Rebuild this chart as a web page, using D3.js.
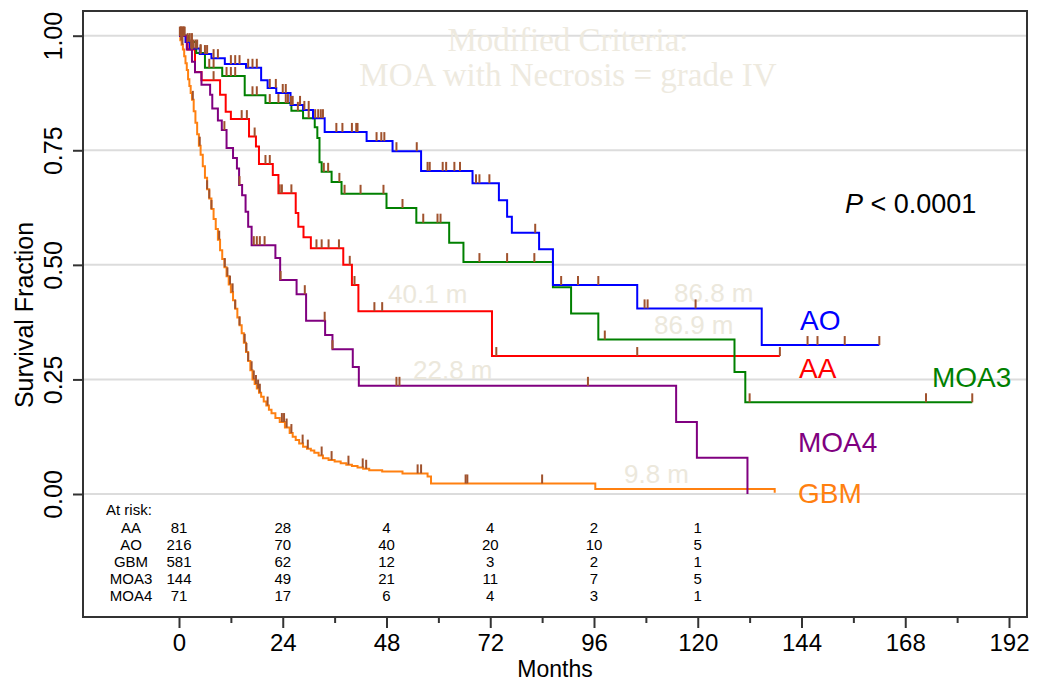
<!DOCTYPE html>
<html>
<head>
  <meta charset="utf-8">
  <title>Survival by grade - modified criteria</title>
  <style>
    html, body { margin: 0; padding: 0; background: #fff; }
    svg { display: block; }
    text { font-family: "Liberation Sans", Arial, sans-serif; }
  </style>
</head>
<body>
  <svg id="chart" width="1038" height="682"></svg>
  <script src="https://d3js.org/d3.v7.min.js"></script>
  <script>
    // ---- data: [months, survival fraction] step points ----
    const aoSteps = [[0,1],[1.5,0.986],[2.5,0.972],[4.8,0.96],[7.5,0.951],[10.6,0.938],[15.5,0.93],[19,0.903],[20.5,0.886],[22.5,0.875],[25.8,0.849],[28.7,0.838],[31,0.82],[33.7,0.79],[43.4,0.77],[49.4,0.748],[56,0.705],[67.9,0.678],[74,0.641],[75.9,0.605],[77,0.57],[83.3,0.534],[86.5,0.456],[106,0.405],[134.8,0.325],[162,0.325]];
    const aoCensor = [0.3,0.7,1,1.3,2,2.8,3.3,3.8,4.2,5,6,6.5,8,9,12,13,14,16,17,18,21,22.4,24,24.7,25.9,26.3,28,29,30,31.5,32.2,32.8,33.3,36.4,37.8,40,41,41.3,45.7,46.8,47.5,50.3,55,57.5,58,61,61.8,63.7,65,68.7,69.5,71.8,82.4,88.4,92.3,97,107.7,108.4,119.5,145.4,147.7,154,162];

    const aaSteps = [[0,1],[2,0.97],[3.7,0.921],[5.2,0.903],[9.5,0.871],[10.8,0.834],[12,0.818],[16.2,0.78],[17.8,0.758],[18.5,0.72],[21.7,0.696],[23,0.656],[27,0.613],[27.6,0.583],[28.8,0.56],[30.5,0.536],[38,0.5],[40,0.456],[41.5,0.399],[72.4,0.301],[139,0.301]];
    const aaCensor = [0.5,1,3,8,14.5,15.7,17.5,20,21,23.3,23.8,26,31.8,33,34.6,37,39.5,40.6,45.2,47,73.4,106,139];

    const moa3Steps = [[0,1],[2,0.986],[4,0.962],[6,0.93],[10,0.912],[15.2,0.87],[20,0.853],[26,0.836],[28.7,0.82],[31.4,0.8],[32,0.777],[32.5,0.724],[33,0.703],[35.3,0.681],[37.6,0.655],[48,0.624],[54.9,0.592],[62.5,0.548],[65.8,0.506],[86.5,0.451],[90.7,0.394],[97,0.337],[128.5,0.266],[131,0.2],[183.5,0.2]];
    const moa3Censor = [0.5,1,2.5,3,5,7,8,11,12,13,17,18,21,23,24.7,25.2,27.5,30,33.5,34.5,37.1,38.3,42,47.3,51.7,56.5,59.8,60.5,69.5,75.9,82.2,98.5,132,172.8,183.5];

    const moa4Steps = [[0,1],[1.8,0.97],[3,0.943],[3.7,0.92],[5.2,0.893],[7.2,0.871],[7.7,0.841],[9,0.815],[9.9,0.794],[11,0.755],[12.5,0.733],[13.4,0.71],[13.9,0.674],[14.6,0.652],[15.4,0.616],[16,0.583],[16.8,0.543],[22.3,0.515],[23.4,0.467],[27.2,0.436],[29.4,0.378],[33.8,0.347],[35.5,0.316],[40.2,0.277],[41.6,0.236],[115,0.157],[119.8,0.079],[131.5,0]];
    const moa4Censor = [0.5,1.2,10.5,14,17.3,18,18.7,19.8,23.5,29.1,33.7,35.5,50.3,51,94.6];

    const gbmSteps = [[0,1],[0.3,0.99],[0.6,0.98],[0.9,0.97],[1.2,0.955],[1.5,0.94],[1.8,0.925],[2.1,0.905],[2.4,0.89],[2.7,0.875],[3,0.86],[3.4,0.835],[3.8,0.81],[4.2,0.785],[4.6,0.76],[5,0.74],[5.5,0.715],[6,0.69],[6.5,0.665],[7,0.645],[7.5,0.622],[8,0.6],[8.5,0.578],[9,0.555],[9.5,0.532],[10,0.513],[10.5,0.495],[11,0.475],[11.5,0.457],[12,0.44],[12.5,0.423],[13,0.404],[13.5,0.385],[14,0.368],[14.5,0.351],[15,0.33],[15.5,0.31],[16,0.29],[16.5,0.27],[17,0.25],[17.5,0.24],[18,0.23],[18.5,0.221],[19,0.212],[19.6,0.202],[20.2,0.193],[20.8,0.184],[21.4,0.176],[22.3,0.166],[23.3,0.157],[24.5,0.145],[25.6,0.133],[26.3,0.125],[27,0.118],[27.8,0.11],[28.7,0.103],[29.6,0.099],[30.5,0.095],[31.3,0.09],[32.3,0.084],[33.3,0.078],[34.6,0.074],[36,0.071],[37.4,0.067],[38.7,0.064],[40,0.061],[41.3,0.058],[42.6,0.055],[44,0.052],[47,0.049],[51.7,0.045],[57.5,0.038],[58.3,0.023],[96.3,0.011],[137.8,0.003],[137.8,0.003]];
    const gbmCensor = [0.2,0.5,0.8,3.2,4.8,6.5,7,7.5,9.3,10.6,11.2,11.8,12.4,13,14,15.2,15.6,16,16.8,17.3,17.8,18.3,18.7,20.5,23.8,24.3,24.9,26,28.6,29.8,33,35.3,39.2,42.5,43.3,55.2,56,66.3,66.7,84];

    // at-risk table
    const atRiskTimes = [0, 24, 48, 72, 96, 120];
    const atRiskNames = ["AA", "AO", "GBM", "MOA3", "MOA4"];
    const atRiskAA   = [81, 28, 4, 4, 2, 1];
    const atRiskAO   = [216, 70, 40, 20, 10, 5];
    const atRiskGBM  = [581, 62, 12, 3, 2, 1];
    const atRiskMOA3 = [144, 49, 21, 11, 7, 5];
    const atRiskMOA4 = [71, 17, 6, 4, 3, 1];

    const xTicks = [0, 24, 48, 72, 96, 120, 144, 168, 192];
    const xMinorTicks = [12, 36, 60, 84, 108, 132, 156, 180];
    const yTicks = [0, 0.25, 0.5, 0.75, 1];

    // median survival annotations
    const medianLabels = ["40.1 m", "86.8 m", "86.9 m", "22.8 m", "9.8 m"];

    // ---- layout ----
    const frame = {left: 83, right: 1027, top: 11, bottom: 617};
    const svg = d3.select("#chart");

    const x = d3.scaleLinear().domain([0, 192]).range([179, 1009]);
    const y = d3.scaleLinear().domain([0, 1]).range([494, 35.7]);

    const censorColor = "#a0522d";
    const series = [
      {name: "GBM",  steps: gbmSteps,  censor: gbmCensor,  color: "#ff8010", lx: 798, ly: 503},
      {name: "AA",   steps: aaSteps,   censor: aaCensor,   color: "#ff0000", lx: 799, ly: 378},
      {name: "MOA3", steps: moa3Steps, censor: moa3Censor, color: "#008000", lx: 932, ly: 387},
      {name: "AO",   steps: aoSteps,   censor: aoCensor,   color: "#0000ff", lx: 800, ly: 330},
      {name: "MOA4", steps: moa4Steps, censor: moa4Censor, color: "#800080", lx: 798, ly: 452}
    ];

    // gridlines
    svg.append("g").selectAll("line").data(yTicks).join("line")
      .attr("x1", frame.left).attr("x2", frame.right)
      .attr("y1", d => y(d)).attr("y2", d => y(d))
      .attr("stroke", "#dcdcdc").attr("stroke-width", 2);

    // title (faint)
    const title = svg.append("text")
      .attr("text-anchor", "middle")
      .style("font-family", "'Liberation Serif', 'Times New Roman', serif")
      .attr("font-size", 33).attr("fill", "#eeeadf");
    title.append("tspan").attr("x", 568).attr("y", 51).text("Modified Criteria:");
    title.append("tspan").attr("x", 568).attr("y", 86).text("MOA with Necrosis = grade IV");

    // median labels (faint)
    const medianPos = [[388, 303], [674, 302], [654, 334], [413, 379], [624, 483]];
    svg.append("g").selectAll("text").data(medianLabels).join("text")
      .attr("x", (d, i) => medianPos[i][0]).attr("y", (d, i) => medianPos[i][1])
      .attr("font-size", 26).attr("fill", "#ece8dc")
      .text(d => d);

    // frame
    svg.append("rect")
      .attr("x", frame.left).attr("y", frame.top)
      .attr("width", frame.right - frame.left).attr("height", frame.bottom - frame.top)
      .attr("fill", "none").attr("stroke", "#333").attr("stroke-width", 2);

    // curves
    const line = d3.line()
      .x(d => x(d[0])).y(d => y(d[1]))
      .curve(d3.curveStepAfter);

    svg.append("g").selectAll("path").data(series).join("path")
      .attr("d", d => line(d.steps))
      .attr("fill", "none")
      .attr("stroke", d => d.color)
      .attr("stroke-width", 2);

    // censor marks
    function survivalAt(steps, t) {
      let s = 1;
      for (const p of steps) { if (p[0] <= t) s = p[1]; }
      return s;
    }
    const censorG = svg.append("g");
    series.forEach(ser => {
      censorG.selectAll(null).data(ser.censor).join("line")
        .attr("x1", t => x(t)).attr("x2", t => x(t))
        .attr("y1", t => y(survivalAt(ser.steps, t)))
        .attr("y2", t => y(survivalAt(ser.steps, t)) - 9)
        .attr("stroke", censorColor).attr("stroke-width", 2);
    });

    // group labels
    svg.append("g").selectAll("text").data(series).join("text")
      .attr("x", d => d.lx).attr("y", d => d.ly)
      .attr("font-size", 28).attr("fill", d => d.color)
      .text(d => d.name);

    // p value
    const pText = svg.append("text").attr("x", 845).attr("y", 213).attr("font-size", 27).attr("fill", "#000");
    pText.append("tspan").attr("font-style", "italic").text("P");
    pText.append("tspan").text(" < 0.0001");

    // x axis
    const gx = svg.append("g").attr("transform", `translate(0,${frame.bottom})`)
      .call(d3.axisBottom(x).tickValues(xTicks).tickSize(11).tickFormat(d3.format("d")));
    gx.select(".domain").remove();
    gx.selectAll(".tick line").attr("stroke", "#333").attr("stroke-width", 2);
    gx.selectAll(".tick text")
      .attr("y", 34).attr("dy", null)
      .attr("font-size", 24).attr("fill", "#000")
      .style("font-family", "'Liberation Sans', Arial, sans-serif");

    const gxm = svg.append("g").attr("transform", `translate(0,${frame.bottom})`)
      .call(d3.axisBottom(x).tickValues(xMinorTicks).tickSize(6).tickFormat(""));
    gxm.select(".domain").remove();
    gxm.selectAll(".tick line").attr("stroke", "#333").attr("stroke-width", 2);

    svg.append("text")
      .attr("x", 555).attr("y", 677)
      .attr("text-anchor", "middle").attr("font-size", 23)
      .text("Months");

    // y axis
    const gy = svg.append("g").attr("transform", `translate(${frame.left},0)`)
      .call(d3.axisLeft(y).tickValues(yTicks).tickSize(10).tickFormat(d3.format(".2f")));
    gy.select(".domain").remove();
    gy.selectAll(".tick line").attr("stroke", "#333").attr("stroke-width", 2);
    gy.selectAll(".tick text")
      .attr("x", null).attr("dy", null)
      .attr("transform", "translate(-21,0) rotate(-90)")
      .attr("text-anchor", "middle")
      .attr("font-size", 25).attr("fill", "#000")
      .style("font-family", "'Liberation Sans', Arial, sans-serif");

    svg.append("text")
      .attr("transform", "translate(33,315) rotate(-90)")
      .attr("text-anchor", "middle").attr("font-size", 25)
      .text("Survival Fraction");

    // at-risk table
    const risk = svg.append("g").attr("font-size", 15).attr("fill", "#000");
    risk.append("text").attr("x", 106).attr("y", 515).text("At risk:");
    const riskRows = [atRiskAA, atRiskAO, atRiskGBM, atRiskMOA3, atRiskMOA4];
    riskRows.forEach((row, i) => {
      const yy = 532.5 + i * 17.1;
      risk.append("text").attr("x", 131).attr("y", yy)
        .attr("text-anchor", "middle").text(atRiskNames[i]);
      risk.selectAll(null).data(row).join("text")
        .attr("x", (d, j) => x(atRiskTimes[j])).attr("y", yy)
        .attr("text-anchor", "middle").text(d => d);
    });
  </script>
</body>
</html>
